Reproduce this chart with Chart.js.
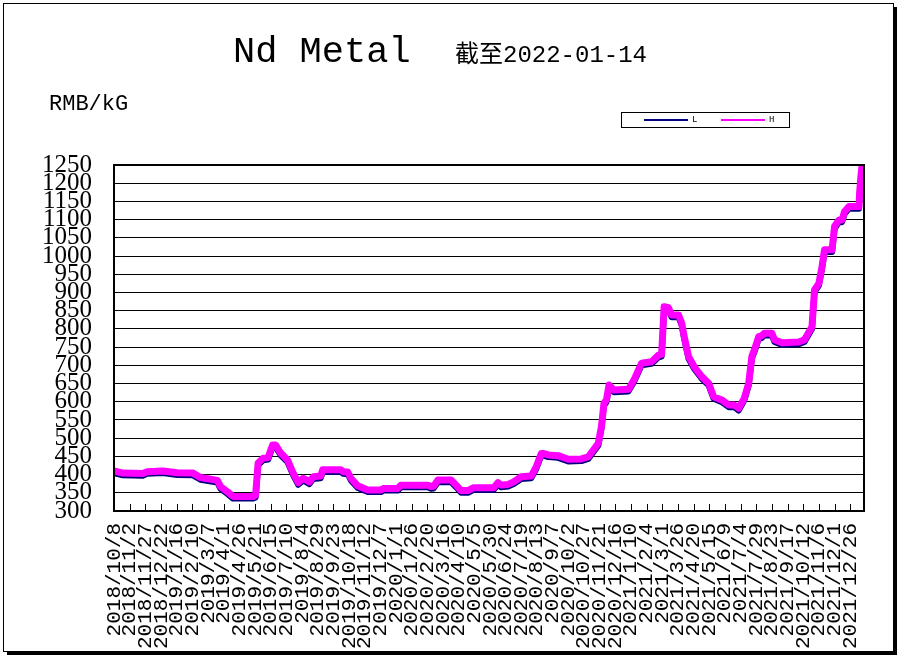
<!DOCTYPE html>
<html>
<head>
<meta charset="utf-8">
<script src="https://cdn.jsdelivr.net/npm/chart.js@4.4.0/dist/chart.umd.min.js"></script>
<style>
  html, body { margin: 0; padding: 0; background: #fff; }
</style>
</head>
<body>
<canvas id="nd" width="901" height="658"></canvas>
<script>
// price dates
const dates = [
  '2018-10-08', '2018-10-22', '2018-11-23', '2018-11-30', '2018-12-25',
  '2019-01-17', '2019-02-11', '2019-02-23', '2019-03-22', '2019-03-27',
  '2019-04-07', '2019-04-16', '2019-05-18', '2019-05-22', '2019-05-26',
  '2019-06-03', '2019-06-11', '2019-06-18', '2019-06-23', '2019-07-01',
  '2019-07-12', '2019-07-21', '2019-07-29', '2019-08-06', '2019-08-16',
  '2019-08-22', '2019-09-03', '2019-09-06', '2019-10-05', '2019-10-09',
  '2019-10-16', '2019-10-21', '2019-11-01', '2019-11-17', '2019-12-08',
  '2019-12-12', '2020-01-04', '2020-01-09', '2020-02-21', '2020-02-26',
  '2020-03-01', '2020-03-08', '2020-03-29', '2020-04-06', '2020-04-14',
  '2020-04-25', '2020-05-04', '2020-06-05', '2020-06-12', '2020-06-17',
  '2020-06-28', '2020-07-07', '2020-07-19', '2020-08-04', '2020-08-12',
  '2020-08-20', '2020-08-24', '2020-08-31', '2020-09-16', '2020-10-02',
  '2020-10-23', '2020-11-03', '2020-11-19', '2020-11-24', '2020-11-28',
  '2020-12-02', '2020-12-06', '2020-12-14', '2021-01-06', '2021-01-15',
  '2021-01-27', '2021-02-12', '2021-02-23', '2021-02-28', '2021-03-04',
  '2021-03-11', '2021-03-16', '2021-03-27', '2021-04-01', '2021-04-05',
  '2021-04-12', '2021-04-21', '2021-05-03', '2021-05-14', '2021-05-22',
  '2021-06-04', '2021-06-15', '2021-06-24', '2021-07-01', '2021-07-10',
  '2021-07-17', '2021-07-22', '2021-07-26', '2021-08-02', '2021-08-07',
  '2021-08-11', '2021-08-23', '2021-08-27', '2021-09-08', '2021-10-05',
  '2021-10-14', '2021-10-26', '2021-10-30', '2021-11-06', '2021-11-11',
  '2021-11-15', '2021-11-27', '2021-12-01', '2021-12-08', '2021-12-13',
  '2021-12-17', '2021-12-24', '2022-01-09', '2022-01-10', '2022-01-12',
  '2022-01-14'
];

// H = high price, RMB/kg
const highs = [
  410, 404, 403, 408, 410, 405, 404, 392, 384, 367,
  353, 340, 340, 343, 432, 445, 447, 481, 481, 459,
  440, 404, 378, 390, 380, 394, 396, 413, 413, 408,
  407, 390, 369, 358, 358, 362, 362, 371, 371, 367,
  368, 385, 385, 371, 356, 356, 364, 364, 378, 371,
  373, 380, 394, 396, 422, 458, 458, 454, 452, 442,
  443, 449, 486, 532, 596, 605, 646, 632, 634, 660,
  706, 710, 728, 730, 861, 858, 838, 838, 816, 779,
  724, 696, 669, 651, 614, 605, 591, 591, 582, 610,
  651, 724, 742, 779, 781, 788, 788, 770, 762, 764,
  770, 806, 907, 925, 971, 1017, 1017, 1081, 1099, 1099,
  1122, 1136, 1136, 1173, 1218, 1250
];

// L = low price, RMB/kg
const lows = [
  404, 398, 397, 402, 404, 399, 398, 386, 378, 361,
  347, 334, 334, 337, 426, 439, 441, 475, 475, 453,
  434, 398, 372, 384, 374, 388, 390, 407, 407, 402,
  401, 384, 363, 352, 352, 356, 356, 365, 365, 361,
  362, 379, 379, 365, 350, 350, 358, 358, 372, 365,
  367, 374, 388, 390, 416, 452, 452, 448, 446, 436,
  437, 443, 480, 526, 590, 599, 640, 626, 628, 654,
  700, 704, 722, 724, 855, 852, 832, 832, 810, 773,
  718, 690, 663, 645, 608, 599, 585, 585, 576, 604,
  645, 718, 736, 773, 775, 782, 782, 764, 756, 758,
  764, 800, 901, 919, 965, 1011, 1011, 1075, 1093, 1093,
  1116, 1130, 1130, 1167, 1212, 1244
];

// x axis tick labels
const tickDates = [
  '2018/10/8', '2018/11/2', '2018/11/27', '2018/12/22', '2019/1/16', '2019/2/10',
  '2019/3/7', '2019/4/1', '2019/4/26', '2019/5/21', '2019/6/15', '2019/7/10',
  '2019/8/4', '2019/8/29', '2019/9/23', '2019/10/18', '2019/11/12', '2019/12/7',
  '2020/1/1', '2020/1/26', '2020/2/20', '2020/3/16', '2020/4/10', '2020/5/5',
  '2020/5/30', '2020/6/24', '2020/7/19', '2020/8/13', '2020/9/7', '2020/10/2',
  '2020/10/27', '2020/11/21', '2020/12/16', '2021/1/10', '2021/2/4', '2021/3/1',
  '2021/3/26', '2021/4/20', '2021/5/15', '2021/6/9', '2021/7/4', '2021/7/29',
  '2021/8/23', '2021/9/17', '2021/10/12', '2021/11/6', '2021/12/1', '2021/12/26'
];

const yTicks = [300, 350, 400, 450, 500, 550, 600, 650, 700, 750,
  800, 850, 900, 950, 1000, 1050, 1100, 1150, 1200, 1250];

// days since first date
const dayOffset = (s) => {
  const [y, m, d] = s.split(/[-\/]/).map(Number);
  return (Date.UTC(y, m - 1, d) - Date.UTC(2018, 9, 8)) / 86400000;
};
const toPoints = (vals) => dates.map((d, i) => ({ x: dayOffset(d), y: vals[i] }));

const sheet = {
  id: 'sheet',
  beforeDraw(chart) {
    const c = chart.ctx;
    c.save();
    c.fillStyle = '#fff';
    c.fillRect(0, 0, chart.width, chart.height);
    // page frame + shadow
    c.fillStyle = '#000';
    c.fillRect(7, 652, 890, 3);
    c.fillRect(894, 7, 3, 648);
    c.strokeStyle = '#000';
    c.lineWidth = 1;
    c.strokeRect(3.5, 3.5, 890, 648);
    // titles
    c.fillStyle = '#000';
    c.textBaseline = 'alphabetic';
    c.font = '37px "Liberation Mono"';
    c.fillText('Nd Metal', 233, 62);
    c.font = '24px "Liberation Mono", "Noto Sans CJK SC"';
    c.fillText('截至2022-01-14', 455, 62);
    c.font = '22px "Liberation Mono"';
    c.fillText('RMB/kG', 49, 110);
    c.restore();
  },
  beforeDatasetsDraw(chart) {
    const c = chart.ctx;
    const { bottom } = chart.chartArea;
    const xs = chart.scales.x;
    c.save();
    c.strokeStyle = '#000';
    c.lineWidth = 1;
    c.beginPath();
    xs.ticks.forEach(t => {
      const px = Math.round(xs.getPixelForValue(t.value)) + 0.5;
      c.moveTo(px, bottom);
      c.lineTo(px, bottom - 7);
    });
    c.stroke();
    c.restore();
  },
  afterDraw(chart) {
    const c = chart.ctx;
    const { left, top, right, bottom } = chart.chartArea;
    c.save();
    c.strokeStyle = '#000';
    c.lineWidth = 2;
    c.strokeRect(left, top, right - left, bottom - top);
    // legend
    c.lineWidth = 1;
    c.fillStyle = '#fff';
    c.fillRect(621.5, 112.5, 168, 15);
    c.strokeRect(621.5, 112.5, 168, 15);
    c.font = '9px "Liberation Mono"';
    c.textBaseline = 'middle';
    chart.data.datasets.forEach((ds, i) => {
      const x0 = 644 + i * 77;
      c.strokeStyle = ds.borderColor;
      c.lineWidth = 2;
      c.beginPath();
      c.moveTo(x0, 120);
      c.lineTo(x0 + 44, 120);
      c.stroke();
      c.fillStyle = '#000';
      c.fillText(ds.label, x0 + 48, 120);
    });
    c.restore();
  }
};

new Chart(document.getElementById('nd'), {
  type: 'line',
  data: {
    datasets: [
      { label: 'L', data: toPoints(lows), borderColor: '#000080', borderWidth: 6, order: 1 },
      { label: 'H', data: toPoints(highs), borderColor: '#ff00ff', borderWidth: 7, order: 0 }
    ]
  },
  options: {
    responsive: false,
    animation: false,
    layout: { padding: { top: 165, right: 37, left: 0, bottom: 0 } },
    elements: {
      point: { radius: 0 },
      line: { tension: 0, borderJoinStyle: 'round', borderCapStyle: 'round' }
    },
    plugins: { legend: { display: false }, tooltip: { enabled: false } },
    scales: {
      x: {
        type: 'linear',
        min: 0,
        max: 1197,
        afterBuildTicks: s => { s.ticks = tickDates.map(t => ({ value: dayOffset(t) })); },
        afterFit: s => { s.height = 147; },
        grid: { display: false },
        border: { display: false },
        ticks: {
          autoSkip: false,
          minRotation: 90,
          maxRotation: 90,
          padding: 4,
          color: '#000',
          font: { family: 'Liberation Mono', size: 21 },
          callback: (v, i) => tickDates[i]
        }
      },
      y: {
        min: 300,
        max: 1250,
        afterBuildTicks: s => { s.ticks = yTicks.map(v => ({ value: v })); },
        afterFit: s => { s.width = 114; },
        grid: { color: '#000', lineWidth: 1, drawTicks: false },
        border: { display: false },
        ticks: {
          autoSkip: false,
          padding: 22,
          color: '#000',
          font: { family: 'Liberation Serif', size: 25 },
          callback: v => String(v)
        }
      }
    }
  },
  plugins: [sheet]
});
</script>
</body>
</html>
